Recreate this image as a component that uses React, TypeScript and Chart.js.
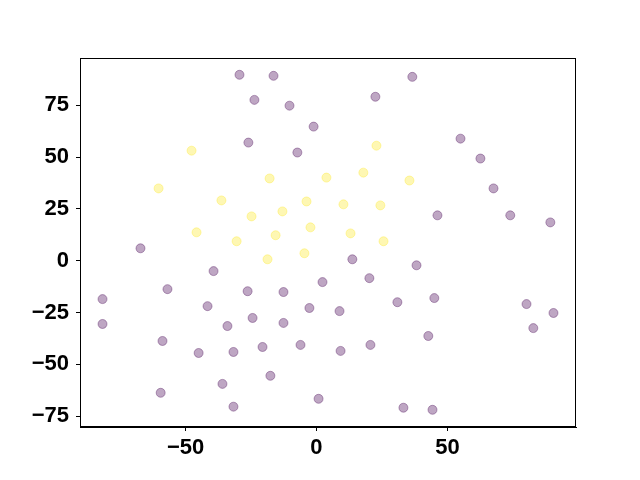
import React, { useEffect, useRef } from "react";
import { Chart, registerables } from "chart.js";

Chart.register(...registerables);

const purpleX = [-29.4, -16.4, -23.7, -10.3, -1.1, -26.0, -7.3, 36.6, 22.5, 55.0, 62.6, 67.6, 46.2, 74.0, 89.3, -67.2, -39.3, -81.7, -81.7, -56.9, -41.6, -26.3, -34.0, -24.4, -12.6, 2.3, -12.6, -2.7, 8.8, 13.7, 20.2, 38.2, 30.9, 45.0, -58.8, -45.0, -31.7, -20.6, -6.1, 9.2, 20.6, 42.7, -59.5, -35.9, -17.6, -31.7, 0.8, 33.2, 44.3, 80.2, 82.8, 90.5];
const purpleY = [89.7, 89.2, 77.6, 74.8, 64.7, 57.0, 52.2, 88.7, 79.1, 58.9, 49.3, 34.9, 21.9, 21.9, 18.5, 6.0, -5.0, -18.5, -30.5, -13.7, -21.9, -14.7, -31.5, -27.6, -15.1, -10.3, -30.0, -22.8, -24.3, 0.7, -8.4, -2.2, -20.0, -18.0, -38.7, -44.5, -44.0, -41.6, -40.6, -43.5, -40.6, -36.3, -63.7, -59.4, -55.5, -70.4, -66.6, -70.9, -71.9, -20.9, -32.5, -25.2];
const yellowX = [-47.7, -60.3, -36.3, -45.8, -30.5, -24.8, -17.9, -13.0, -15.6, -18.7, -3.8, -2.3, -4.6, 3.8, 17.9, 10.3, 13.0, 22.9, 24.4, 35.5, 25.6];
const yellowY = [53.1, 34.9, 29.1, 13.7, 9.4, 21.4, 39.7, 23.8, 12.3, 0.7, 28.6, 16.1, 3.6, 40.1, 42.5, 27.2, 13.2, 55.5, 26.7, 38.7, 9.4];

const xMin = -90.3;
const xMax = 99.1;
const yMin = -80.2;
const yMax = 97.8;

const FONT = { family: "'Liberation Sans', Arial, sans-serif", size: 22, weight: "bold" as const };

const fmt = (v: number | string) => {
  const n = Number(v);
  return n < 0 ? "\u2212" + Math.abs(n) : String(n);
};

const framePlugin = {
  id: "frame",
  afterDraw(chart: any) {
    const { ctx, chartArea } = chart;
    ctx.save();
    ctx.strokeStyle = "#000";
    ctx.lineWidth = 1;
    ctx.strokeRect(chartArea.left + 0.5, chartArea.top + 0.5, chartArea.right - chartArea.left - 1, chartArea.bottom - chartArea.top - 1);
    ctx.restore();
  },
};

export default function App() {
  const ref = useRef<HTMLCanvasElement>(null);
  useEffect(() => {
    document.body.style.margin = "0";
    const toPts = (xs: number[], ys: number[]) => xs.map((x, i) => ({ x, y: ys[i] }));
    const chart = new Chart(ref.current!, {
      type: "scatter",
      data: {
        datasets: [
          {
            data: toPts(purpleX, purpleY),
            backgroundColor: "rgba(68,1,84,0.35)",
            borderColor: "rgba(68,1,84,0.35)",
            borderWidth: 1,
            pointRadius: 4.5,
          },
          {
            data: toPts(yellowX, yellowY),
            backgroundColor: "rgba(253,231,37,0.35)",
            borderColor: "rgba(253,231,37,0.35)",
            borderWidth: 1,
            pointRadius: 4.5,
          },
        ],
      },
      options: {
        responsive: false,
        animation: false,
        layout: { padding: { top: 58, right: 64, left: 0, bottom: 0 } },
        plugins: { legend: { display: false }, tooltip: { enabled: false } },
        scales: {
          x: {
            type: "linear",
            min: xMin,
            max: xMax,
            afterFit: (s: any) => { s.height = 53; },
            ticks: { stepSize: 50, includeBounds: false, color: "#000", font: FONT, padding: 4, maxRotation: 0, callback: fmt },
            grid: { drawOnChartArea: false, drawTicks: true, tickLength: 4, color: "#000" },
            border: { display: true, color: "#000" },
          },
          y: {
            type: "linear",
            min: yMin,
            max: yMax,
            afterFit: (s: any) => { s.width = 80; },
            ticks: { stepSize: 25, includeBounds: false, color: "#000", font: FONT, padding: 7, callback: fmt },
            grid: { drawOnChartArea: false, drawTicks: true, tickLength: 4, color: "#000" },
            border: { display: true, color: "#000" },
          },
        },
      },
      plugins: [framePlugin],
    });
    return () => chart.destroy();
  }, []);
  return (
    <div style={{ position: "absolute", left: 0, top: 0, width: 640, height: 480, background: "#fff" }}>
      <canvas ref={ref} width={640} height={480} style={{ width: 640, height: 480 }} />
    </div>
  );
}
